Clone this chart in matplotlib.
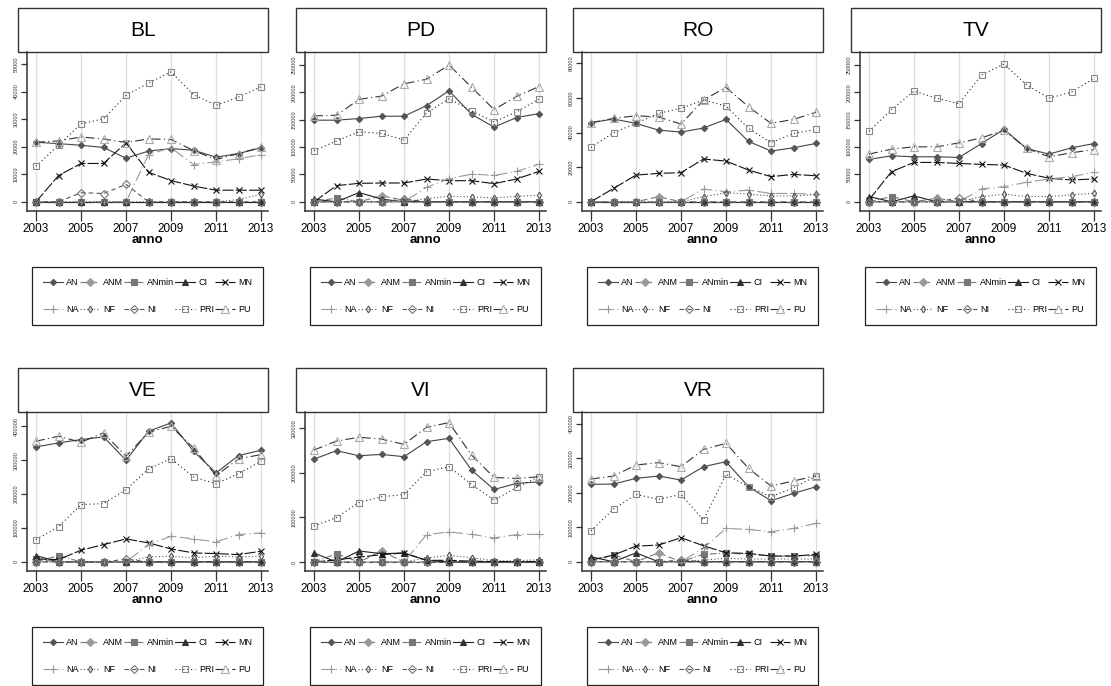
"""Pannelli per provincia: serie annuali per categoria, stile Stata."""

import matplotlib
matplotlib.use('Agg')
import matplotlib.pyplot as plt
from matplotlib.patches import Rectangle
import numpy as np

plt.rcParams['font.family'] = ['Liberation Sans', 'DejaVu Sans']

years = list(range(2003, 2014))
series_names = ['AN', 'ANM', 'ANmin', 'CI', 'MN', 'NA', 'NF', 'NI', 'PRI', 'PU']
Z = [0] * 11

BL = dict(
    AN=[21600, 21100, 20500, 19700, 15800, 18400, 19300, 18700, 16200, 17500, 19600],
    ANM=Z, ANmin=Z, CI=Z,
    MN=[0, 9500, 13900, 13900, 21400, 10700, 7700, 5700, 4200, 4200, 4200],
    NA=[0, 0, 0, 0, 0, 17100, 19600, 13500, 14500, 15600, 17100],
    NF=[0, 0, 0, 0, 0, 0, 0, 0, 0, 800, 2700],
    NI=[0, 0, 3300, 3000, 6300, 0, 0, 0, 0, 0, 0],
    PRI=[12900, 20500, 28300, 30100, 38600, 43100, 47100, 38900, 35000, 38000, 41700],
    PU=[21600, 22100, 23500, 22800, 21500, 22800, 22600, 18600, 15300, 17500, 19800],
)
PD = dict(
    AN=[149200, 149200, 152200, 156400, 156400, 175700, 202900, 160000, 136500, 154000, 161200],
    ANM=[0, 0, 0, 11000, 3000, 0, 0, 0, 0, 0, 0],
    ANmin=[0, 7000, 0, 0, 0, 0, 0, 0, 0, 0, 0],
    CI=[5000, 0, 17000, 5000, 0, 0, 0, 0, 0, 0, 0],
    MN=[0, 29600, 33800, 34400, 34400, 41700, 38600, 38600, 33200, 41700, 55600],
    NA=[0, 0, 0, 0, 0, 26600, 42300, 50700, 48300, 55600, 68800],
    NF=[0, 0, 0, 0, 0, 6000, 10300, 9000, 7200, 10000, 12000],
    NI=[0, 0, 0, 0, 5000, 0, 0, 0, 0, 0, 0],
    PRI=[93600, 111100, 128000, 125000, 112900, 162400, 188400, 166100, 146100, 164300, 187800],
    PU=[157000, 158200, 187200, 193200, 215600, 224000, 250000, 209500, 168500, 192600, 210700],
)
RO = dict(
    AN=[45700, 47800, 45300, 41400, 40300, 42600, 47600, 34900, 29300, 31200, 33700],
    ANM=[0, 0, 0, 2900, 0, 0, 0, 0, 0, 0, 0],
    ANmin=Z, CI=Z,
    MN=[0, 7700, 15400, 16400, 16800, 24700, 23500, 18300, 14500, 15800, 15000],
    NA=[0, 0, 0, 0, 0, 7300, 5800, 6700, 4800, 4800, 4200],
    NF=[0, 0, 0, 0, 0, 2900, 5200, 4400, 3300, 3300, 4200],
    NI=Z,
    PRI=[31400, 39900, 45300, 51100, 54000, 58800, 55300, 42400, 34100, 39500, 41800],
    PU=[45700, 48200, 49700, 49000, 44900, 58800, 66100, 54900, 45300, 47600, 51700],
)
TV = dict(
    AN=[77500, 84100, 82300, 82300, 81100, 106500, 132600, 97500, 87200, 98700, 106500],
    ANM=[0, 0, 0, 6700, 0, 0, 0, 0, 0, 0, 0],
    ANmin=[0, 9700, 0, 0, 0, 0, 0, 0, 0, 0, 0],
    CI=[9700, 0, 10900, 0, 0, 0, 0, 0, 0, 0, 0],
    MN=[3600, 55100, 72000, 72000, 70200, 68400, 67200, 52100, 43000, 40000, 41800],
    NA=[0, 0, 0, 0, 0, 23600, 27800, 35700, 41800, 46000, 53900],
    NF=[0, 0, 0, 0, 0, 9700, 13900, 9700, 9700, 12700, 15700],
    NI=[0, 0, 0, 0, 7000, 0, 0, 0, 0, 0, 0],
    PRI=[128900, 168300, 202200, 189500, 179200, 231800, 251800, 213700, 189500, 200400, 225800],
    PU=[87200, 96300, 100500, 100500, 107700, 116800, 130800, 97500, 82300, 89600, 95600],
)
VE = dict(
    AN=[339000, 350900, 360700, 368600, 299800, 385300, 409800, 326300, 262400, 313500, 329200],
    ANM=[8000, 0, 0, 0, 0, 0, 0, 0, 0, 0, 0],
    ANmin=[0, 18700, 0, 0, 0, 0, 0, 0, 0, 0, 0],
    CI=[18700, 0, 0, 0, 0, 0, 0, 0, 0, 0, 0],
    MN=[8800, 6900, 34400, 51100, 67800, 56000, 38300, 26500, 24600, 21600, 31400],
    NA=[0, 0, 0, 0, 0, 51000, 75700, 67800, 59000, 80600, 85500],
    NF=[0, 0, 0, 0, 0, 14700, 16700, 11800, 16700, 14700, 16700],
    NI=[0, 0, 0, 0, 8000, 0, 0, 0, 0, 0, 0],
    PRI=[65800, 103200, 169000, 172000, 213300, 274200, 304700, 250600, 230000, 260400, 296800],
    PU=[355800, 370500, 352800, 380400, 311500, 382300, 400000, 336100, 254500, 303700, 316500],
)
VI = dict(
    AN=[231000, 249800, 238500, 241500, 236300, 270000, 277500, 206300, 162800, 176300, 180000],
    ANM=[0, 0, 0, 24800, 0, 0, 0, 0, 0, 0, 0],
    ANmin=[0, 18800, 0, 0, 0, 0, 0, 0, 0, 0, 0],
    CI=[20300, 0, 24800, 18800, 20300, 3800, 0, 0, 0, 0, 0],
    MN=[0, 5000, 11000, 16500, 20300, 3800, 3800, 2000, 1000, 1000, 1000],
    NA=[0, 0, 0, 0, 0, 61500, 67500, 62300, 54000, 61500, 62300],
    NF=[0, 0, 0, 0, 0, 9000, 15000, 9800, 3000, 3000, 5000],
    NI=Z,
    PRI=[81000, 99800, 133500, 146300, 151500, 202500, 213800, 174000, 138800, 167300, 191300],
    PU=[251300, 271600, 279800, 276000, 264000, 302300, 312800, 240000, 189800, 187500, 191300],
)
VR = dict(
    AN=[224700, 225700, 242100, 248900, 237300, 276000, 290600, 217900, 177200, 198500, 217900],
    ANM=[0, 0, 0, 26000, 0, 0, 0, 0, 0, 0, 0],
    ANmin=[0, 20000, 0, 0, 0, 22000, 25000, 22000, 17000, 17000, 18000],
    CI=[14500, 0, 26000, 0, 0, 0, 0, 0, 0, 0, 0],
    MN=[4800, 19400, 45500, 48400, 69700, 46500, 26100, 24200, 16500, 16500, 21300],
    NA=[0, 0, 0, 0, 0, 40000, 96900, 93900, 87200, 96900, 111400],
    NF=[0, 0, 0, 0, 0, 5000, 10000, 8000, 8000, 8000, 8000],
    NI=[0, 0, 0, 0, 5000, 0, 0, 0, 0, 0, 0],
    PRI=[90100, 153000, 195600, 181100, 195600, 121100, 253800, 217900, 188900, 215000, 248900],
    PU=[240200, 248900, 280900, 287700, 276000, 326400, 343800, 271200, 219900, 234400, 249900],
)

provinces = ['BL', 'PD', 'RO', 'TV', 'VE', 'VI', 'VR']
prov_data = [BL, PD, RO, TV, VE, VI, VR]
# top y tick, step, axis top factor
y_top = [50000, 250000, 80000, 250000, 400000, 300000, 400000]
y_step = [10000, 50000, 20000, 50000, 100000, 100000, 100000]
y_hi = [1.087, 1.095, 1.082, 1.095, 1.105, 1.122, 1.087]

styles = {
    'AN': dict(color='#444444', ls='-', marker='D', ms=3.2, mfc='#555555', mec='#555555'),
    'ANM': dict(color='#777777', ls=(0, (6, 3)), marker='D', ms=3.8, mfc='#999999', mec='#999999'),
    'ANmin': dict(color='#777777', ls=(0, (6, 2, 1, 2)), marker='s', ms=4, mfc='#777777', mec='#777777'),
    'CI': dict(color='#222222', ls='-', marker='^', ms=4.5, mfc='#333333', mec='#333333'),
    'MN': dict(color='#111111', ls=(0, (10, 2)), marker='x', ms=4, mfc='none', mec='#111111'),
    'NA': dict(color='#999999', ls=(0, (10, 3, 1, 3)), marker='+', ms=6, mfc='none', mec='#999999'),
    'NF': dict(color='#555555', ls=(0, (1, 2)), marker='d', ms=3.5, mfc='none', mec='#555555'),
    'NI': dict(color='#555555', ls=(0, (4, 3)), marker='D', ms=4, mfc='none', mec='#777777'),
    'PRI': dict(color='#222222', ls=(0, (1, 2.5)), marker='s', ms=5, mfc='none', mec='#888888'),
    'PU': dict(color='#333333', ls=(0, (8, 3, 1, 3)), marker='^', ms=6, mfc='none', mec='#aaaaaa'),
}

W, H = 1111, 686
fig = plt.figure(figsize=(W / 100, H / 100), dpi=100)


def fx(px):
    return px / W


def fy(py):
    return 1 - py / H


strip_x = [18, 296, 573, 851]
row_y = [0, 360]

# legend fills column by column: interleave so rows read AN..MN / NA..PU
leg_order = [0, 5, 1, 6, 2, 7, 3, 8, 4, 9]

for i, (prov, data) in enumerate(zip(provinces, prov_data)):
    sx = strip_x[i % 4]
    oy = row_y[i // 4]

    # strip with province name
    fig.add_artist(Rectangle((fx(sx), fy(oy + 52)), 250 / W, 44 / H,
                             transform=fig.transFigure, fill=False,
                             ec='#333333', lw=1))
    fig.text(fx(sx + 125), fy(oy + 30), prov, ha='center', va='center',
             fontsize=15, color='black')

    ax = fig.add_axes([fx(sx + 9), fy(oy + 211), 241 / W, 159 / H])
    handles = []
    for name in series_names:
        st = styles[name]
        ln, = ax.plot(years, data[name], color=st['color'], ls=st['ls'], lw=0.8,
                      marker=st['marker'], ms=st['ms'], mfc=st['mfc'],
                      mec=st['mec'], mew=0.8, label=name)
        handles.append(ln)

    ax.set_xlim(2002.6, 2013.31)
    ax.set_ylim(-0.067 * y_top[i], y_hi[i] * y_top[i])
    ax.set_xticks(range(2003, 2014, 2))
    yt = np.arange(0, y_top[i] + 1, y_step[i])
    ax.set_yticks(yt)
    ax.set_yticklabels([str(int(v)) for v in yt], rotation=90, va='center',
                       fontsize=4, color='#333333')
    ax.tick_params(axis='x', length=7, width=0.9, labelsize=8.5, pad=2,
                   color='#333333')
    ax.tick_params(axis='y', length=4, width=0.9, pad=2, color='#333333')
    ax.grid(axis='x', color='#dddddd', lw=0.9)
    ax.set_axisbelow(True)
    for side in ['top', 'right']:
        ax.spines[side].set_visible(False)
    for side in ['left', 'bottom']:
        ax.spines[side].set_color('#333333')
        ax.spines[side].set_linewidth(1.1)
    ax.set_xlabel('anno', fontsize=9.5, fontweight='bold', labelpad=-1)

    leg = ax.legend([handles[k] for k in leg_order],
                    [series_names[k] for k in leg_order],
                    ncol=5, mode='expand', loc='center',
                    bbox_to_anchor=(fx(sx + 14), fy(oy + 326), 231 / W, 60 / H),
                    bbox_transform=fig.transFigure, fontsize=6.5, numpoints=1,
                    handlelength=2.2, handletextpad=0.4, columnspacing=0.3,
                    labelspacing=2.0, borderpad=1.2, borderaxespad=0,
                    fancybox=False, framealpha=1, edgecolor='#222222')
    leg.get_frame().set_linewidth(0.9)

fig.savefig('out.png', dpi=100)
